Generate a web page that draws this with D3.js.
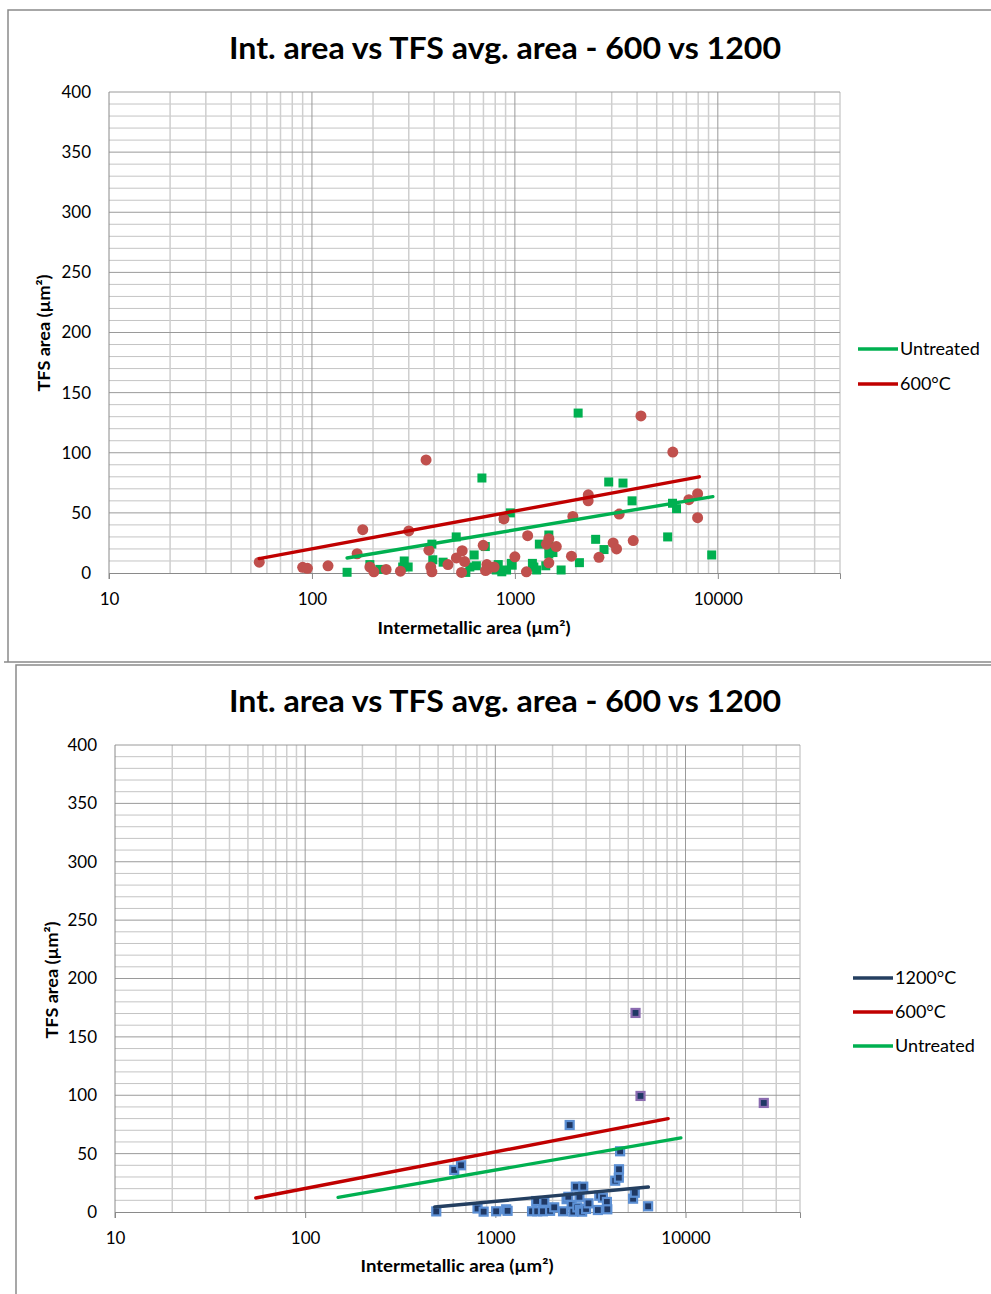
<!DOCTYPE html>
<html>
<head>
<meta charset="utf-8">
<script src="https://cdn.jsdelivr.net/npm/d3@7"></script>
<style>
  html, body { margin: 0; padding: 0; background: #fff; }
  svg { display: block; }
  text { font-family: Lato, "Open Sans", sans-serif; fill: #000; }
</style>
</head>
<body>
<svg id="chart" width="991" height="1294"></svg>
<script>
// ---- data ----
const chartTitle = "Int. area vs TFS avg. area - 600 vs 1200";
const xTickValues = [10, 100, 1000, 10000];
const yTickValues = [0, 50, 100, 150, 200, 250, 300, 350, 400];
const xDomain = [10, 40000];
const yDomain = [0, 400];

// [intermetallic area µm², TFS area µm²]
const untreated = [
  [149, 0.6], [193, 7], [216, 3], [280, 5], [285, 10], [298, 5], [390, 24], [394, 11],
  [443, 9], [514, 30], [573, 0.5], [600, 5], [630, 15], [646, 6], [688, 79], [715, 22],
  [810, 2.5], [828, 7], [862, 1], [880, 45.5], [910, 2.5], [950, 50], [960, 8], [970, 6.5],
  [1220, 8], [1240, 5], [1280, 2.5], [1320, 24], [1420, 6], [1470, 31.6], [1470, 23],
  [1470, 15.8], [1540, 17], [1690, 2.5], [2050, 133], [2080, 8.6], [2500, 28], [2750, 19.5],
  [2900, 75.7], [3410, 74.8], [3780, 60], [5660, 30], [5980, 58], [6260, 53.5], [9330, 15]
];
const treated600 = [
  [55, 9], [90, 4.7], [95, 3.9], [120, 6], [167, 16], [178, 36], [193, 5], [202, 1],
  [232, 3], [273, 1.5], [300, 35], [365, 94], [377, 19], [385, 5], [390, 1], [468, 7],
  [515, 12.5], [550, 18.5], [565, 9.5], [546, 0.5], [698, 23], [728, 7], [717, 2], [745, 4],
  [790, 5], [883, 45], [1000, 13.5], [1156, 31], [1140, 1], [1431, 24], [1470, 28.5],
  [1470, 8.5], [1600, 22], [1930, 47], [1900, 14], [2297, 60], [2300, 65], [2596, 13],
  [3050, 25], [3170, 20], [3265, 49], [3830, 27], [4180, 130.6], [6000, 100.6], [7200, 61],
  [7950, 66], [7950, 46]
];
const treated1200 = [
  [489, 0.5], [608, 36], [660, 40], [806, 3], [868, 0.3], [1010, 0.6], [1140, 2.3], [1160, 1],
  [1560, 0.6], [1660, 0.6], [1780, 0.6], [1640, 9.4], [1810, 8.8], [1940, 1], [2040, 4],
  [2270, 0.6], [2370, 11], [2420, 13], [2460, 74.5], [2520, 6], [2570, 0.3], [2700, 4],
  [2790, 1.7], [2650, 21.7], [2900, 21.7], [2770, 13], [2860, 0.3], [3000, 2.6], [3090, 7.4],
  [3460, 1.7], [3520, 14], [3680, 12.3], [3860, 8.6], [3880, 2.3], [4270, 26.8], [4460, 29.4],
  [4470, 36.6], [4530, 52], [5300, 11.4], [5410, 16.5], [6360, 4.9]
];
const treated1200High = [[5460, 170.5], [5800, 99.4], [25800, 93.4]];

// logarithmic trend lines, given by their end points
const trendUntreated = [[149, 12.5], [9450, 63.5]];
const trend600 = [[55, 12], [8100, 80]];
const trend1200 = [[480, 4.3], [6380, 21.4]];

const colors = {
  untreated: "#00b050",
  t600Line: "#c00000",
  t600Dot: "#c0504d",
  t1200Line: "#243f60",
  t1200Fill: "#1f3864",
  t1200Edge: "#5b8fd4",
  t1200HighEdge: "#8a6bb0"
};

const svg = d3.select("#chart");

function drawPanel(cfg) {
  const g = svg.append("g");

  // panel frame
  g.append("path")
    .attr("d", `M${cfg.frame.x},${cfg.frame.y2} V${cfg.frame.y} H${cfg.frame.x2}`)
    .attr("fill", "none").attr("stroke", "#8a8a8a").attr("stroke-width", 1.5);
  if (cfg.frame.bottom) {
    g.append("line")
      .attr("x1", cfg.frame.x - 4).attr("x2", cfg.frame.x2)
      .attr("y1", cfg.frame.y2).attr("y2", cfg.frame.y2)
      .attr("stroke", "#8a8a8a").attr("stroke-width", 1.5);
  }

  const x = d3.scaleLog().domain(xDomain).range([cfg.left, cfg.right]);
  const y = d3.scaleLinear().domain(yDomain).range([cfg.bottom, cfg.top]);

  // minor and major grid lines
  const minorX = [];
  for (let dec = 10; dec < 40000; dec *= 10) {
    for (let m = 2; m <= 9; m++) {
      const v = dec * m;
      if (v <= 40000) minorX.push(v);
    }
  }
  const minorY = d3.range(10, 401, 10).filter(v => v % 50 !== 0);

  g.append("g").selectAll("line").data(minorY).join("line")
    .attr("x1", cfg.left).attr("x2", cfg.right)
    .attr("y1", d => y(d)).attr("y2", d => y(d))
    .attr("stroke", "#c4c4c4").attr("stroke-width", 1);
  g.append("g").selectAll("line").data(minorX).join("line")
    .attr("x1", d => x(d)).attr("x2", d => x(d))
    .attr("y1", cfg.top).attr("y2", cfg.bottom)
    .attr("stroke", "#cfcfcf").attr("stroke-width", 1.5);
  g.append("g").selectAll("line").data(yTickValues.filter(v => v > 0)).join("line")
    .attr("x1", cfg.left).attr("x2", cfg.right)
    .attr("y1", d => y(d)).attr("y2", d => y(d))
    .attr("stroke", "#9a9a9a").attr("stroke-width", 1);
  g.append("g").selectAll("line").data(xTickValues.filter(v => v > 10)).join("line")
    .attr("x1", d => x(d)).attr("x2", d => x(d))
    .attr("y1", cfg.top).attr("y2", cfg.bottom)
    .attr("stroke", "#9a9a9a").attr("stroke-width", 1);

  // axes
  const xAxis = d3.axisBottom(x).tickValues(xTickValues).tickFormat(d3.format("d"))
    .tickSize(6).tickPadding(14);
  const yAxis = d3.axisLeft(y).tickValues(yTickValues).tickSize(0).tickPadding(18);

  const gx = g.append("g").attr("transform", `translate(0,${cfg.bottom})`).call(xAxis);
  gx.select(".domain").attr("stroke", "#8a8a8a");
  gx.selectAll(".tick line").attr("stroke", "#8a8a8a");
  gx.selectAll(".tick text").attr("font-size", 17).attr("font-family", "Lato, sans-serif")
    .attr("fill", "#222");

  const gy = g.append("g").attr("transform", `translate(${cfg.left},0)`).call(yAxis);
  gy.select(".domain").attr("stroke", "#8a8a8a").attr("d", `M0,${cfg.top}V${cfg.bottom + 6}`);
  gy.selectAll(".tick text").attr("font-size", 17).attr("font-family", "Lato, sans-serif")
    .attr("fill", "#222");

  // titles
  g.append("text")
    .attr("x", cfg.titleX).attr("y", cfg.titleY)
    .attr("text-anchor", "middle")
    .attr("font-size", 30).attr("font-weight", "bold")
    .attr("textLength", 552).attr("lengthAdjust", "spacingAndGlyphs")
    .text(chartTitle);

  g.append("text")
    .attr("x", cfg.xTitleX).attr("y", cfg.xTitleY)
    .attr("text-anchor", "middle")
    .attr("font-size", 17).attr("font-weight", "bold")
    .attr("textLength", 193).attr("lengthAdjust", "spacingAndGlyphs")
    .text("Intermetallic area (µm²)");

  g.append("text")
    .attr("transform", `translate(${cfg.yTitleX},${cfg.yTitleY}) rotate(-90)`)
    .attr("text-anchor", "middle")
    .attr("font-size", 17).attr("font-weight", "bold")
    .attr("textLength", 117).attr("lengthAdjust", "spacingAndGlyphs")
    .text("TFS area (µm²)");

  // points
  if (cfg.showUntreated) {
    g.append("g").selectAll("rect").data(untreated).join("rect")
      .attr("x", d => x(d[0]) - 4.5).attr("y", d => y(d[1]) - 4.5)
      .attr("width", 9).attr("height", 9)
      .attr("fill", colors.untreated);
  }
  if (cfg.show600) {
    g.append("g").selectAll("circle").data(treated600).join("circle")
      .attr("cx", d => x(d[0])).attr("cy", d => y(d[1])).attr("r", 5.5)
      .attr("fill", colors.t600Dot);
  }
  if (cfg.show1200) {
    g.append("g").selectAll("rect").data(treated1200).join("rect")
      .attr("x", d => x(d[0]) - 4).attr("y", d => y(d[1]) - 4)
      .attr("width", 8).attr("height", 8)
      .attr("fill", colors.t1200Fill).attr("stroke", colors.t1200Edge).attr("stroke-width", 2.2);
    g.append("g").selectAll("rect").data(treated1200High).join("rect")
      .attr("x", d => x(d[0]) - 4).attr("y", d => y(d[1]) - 4)
      .attr("width", 8).attr("height", 8)
      .attr("fill", colors.t1200Fill).attr("stroke", colors.t1200HighEdge).attr("stroke-width", 2.2);
  }

  // trend lines
  const line = d3.line().x(d => x(d[0])).y(d => y(d[1]));
  cfg.trends.forEach(t => {
    g.append("path").datum(t.data)
      .attr("d", line)
      .attr("fill", "none").attr("stroke", t.color).attr("stroke-width", 3.4)
      .attr("stroke-linecap", "round");
  });

  // legend
  cfg.legend.forEach((item, i) => {
    const ly = cfg.legendY + i * cfg.legendStep;
    g.append("line")
      .attr("x1", cfg.legendX).attr("x2", cfg.legendX + 40)
      .attr("y1", ly).attr("y2", ly)
      .attr("stroke", item.color).attr("stroke-width", 3.4);
    g.append("text")
      .attr("x", cfg.legendX + 42).attr("y", ly + 6)
      .attr("font-size", 18).attr("fill", "#222")
      .text(item.label);
  });
}

drawPanel({
  frame: { x: 8, y: 10, x2: 995, y2: 662, bottom: true },
  left: 109, right: 840, top: 92, bottom: 573,
  titleX: 505, titleY: 59,
  xTitleX: 474, xTitleY: 634,
  yTitleX: 50, yTitleY: 333,
  showUntreated: true, show600: true, show1200: false,
  trends: [
    { data: trendUntreated, color: colors.untreated },
    { data: trend600, color: colors.t600Line }
  ],
  legend: [
    { label: "Untreated", color: colors.untreated },
    { label: "600°C", color: colors.t600Line }
  ],
  legendX: 858, legendY: 349, legendStep: 35
});

drawPanel({
  frame: { x: 16, y: 665, x2: 995, y2: 1300, bottom: false },
  left: 115, right: 800, top: 745, bottom: 1212,
  titleX: 505, titleY: 712,
  xTitleX: 457, xTitleY: 1272,
  yTitleX: 58, yTitleY: 980,
  showUntreated: false, show600: false, show1200: true,
  trends: [
    { data: trend600, color: colors.t600Line },
    { data: trendUntreated, color: colors.untreated },
    { data: trend1200, color: colors.t1200Line }
  ],
  legend: [
    { label: "1200°C", color: colors.t1200Line },
    { label: "600°C", color: colors.t600Line },
    { label: "Untreated", color: colors.untreated }
  ],
  legendX: 853, legendY: 978, legendStep: 34
});
</script>
</body>
</html>
